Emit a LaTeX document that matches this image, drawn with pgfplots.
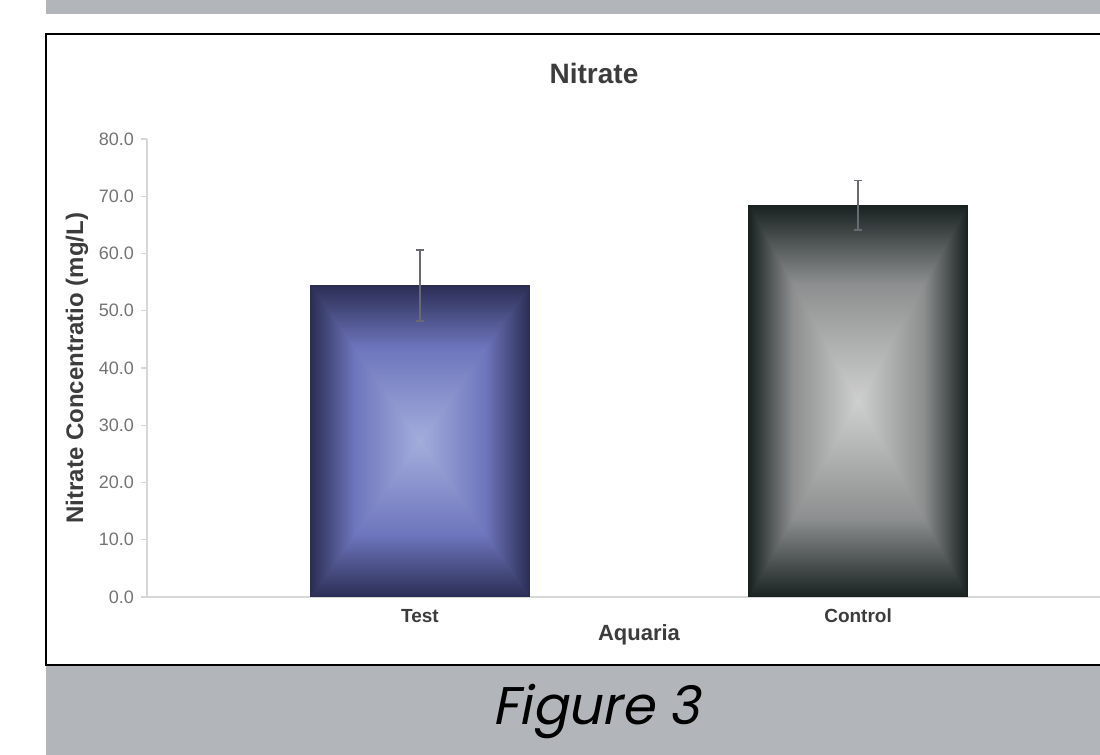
\documentclass[border=0pt]{standalone}
\usepackage{pgfplots}
\pgfplotsset{compat=1.18}
\usepackage{fontspec}
\setmainfont{Liberation Sans}
\newfontfamily\figfont{Poppins}[FakeSlant=0.2]

\definecolor{bandgray}{RGB}{178,182,186}
\definecolor{axisgray}{RGB}{215,215,215}
\definecolor{tickgray}{RGB}{115,115,115}
\definecolor{labelgray}{RGB}{60,60,60}
\definecolor{errgray}{RGB}{105,105,115}
\definecolor{testedge}{RGB}{42,45,80}
\definecolor{ctrledge}{RGB}{25,32,32}

% box gradients: light centre, dark edges (t = max(|x|,|y|))
\pgfdeclarefunctionalshading{testbox}{\pgfpoint{-50bp}{-50bp}}{\pgfpoint{50bp}{50bp}}{}{
  abs exch abs 2 copy lt {exch} if pop 25 div dup 1 gt {pop 1} if
  dup 0.6 lt
  {0.6 div dup -0.21 mul 0.64 add exch dup -0.22 mul 0.68 add exch -0.12 mul 0.86 add}
  {0.6 sub 0.4 div dup -0.26 mul 0.43 add exch dup -0.28 mul 0.46 add exch -0.41 mul 0.74 add}
  ifelse
}
\pgfdeclarefunctionalshading{ctrlbox}{\pgfpoint{-50bp}{-50bp}}{\pgfpoint{50bp}{50bp}}{}{
  abs exch abs 2 copy lt {exch} if pop 25 div dup 1 gt {pop 1} if
  dup 0.6 lt
  {0.6 div dup -0.26 mul 0.81 add exch dup -0.25 mul 0.81 add exch -0.25 mul 0.81 add}
  {0.6 sub 0.4 div dup -0.45 mul 0.55 add exch dup -0.43 mul 0.56 add exch -0.43 mul 0.56 add}
  ifelse
}

\begin{document}
\begin{tikzpicture}[x=0.5pt, y=0.5pt]
\useasboundingbox (0,0) rectangle (1100,755);
\clip (0,0) rectangle (1100,755);

% page furniture (y measured from the bottom, 1 unit = 1 px of the reference)
\fill[bandgray] (46,741) rectangle (1100,755);
\fill[bandgray] (46,0) rectangle (1100,89);
\draw[line width=1.4pt, black] (46,90) rectangle (1143,721);
\node[font=\figfont\fontsize{26.5}{30}\selectfont, anchor=base] at (596,30) {Figure 3};

\node[font=\bfseries\fontsize{14}{16}\selectfont, text=labelgray] at (594,681) {Nitrate};

\begin{axis}[
    at={(73.5pt,79pt)}, anchor=south west,
    scale only axis,
    width=492pt, height=229pt,
    xmin=-0.623, xmax=1.623,
    ymin=0, ymax=80,
    axis x line=bottom, axis y line=left,
    axis line style={-, draw=axisgray, line width=0.6pt},
    tick align=outside,
    major tick length=3pt,
    ytick={0,10,...,80},
    ytick style={draw=axisgray, line width=0.6pt},
    xtick={0,1},
    xticklabels={Test,Control},
    xtick style={draw=none},
    /pgf/number format/assume math mode=true,
    yticklabel style={/pgf/number format/.cd, fixed, fixed zerofill, precision=1, /tikz/.cd,
        font=\fontsize{9}{10}\selectfont, text=tickgray},
    xticklabel style={font=\bfseries\fontsize{9.5}{11}\selectfont, text=labelgray,
        anchor=base, yshift=-10pt},
    xlabel={Aquaria},
    xlabel style={at={(axis description cs:0.5,0)}, anchor=base, yshift=-22pt,
        font=\bfseries\fontsize{11}{13}\selectfont, text=labelgray},
    ylabel={Nitrate Concentratio (mg/L)},
    ylabel style={at={(axis description cs:-0.0711,0.5)}, anchor=center,
        font=\bfseries\fontsize{12}{14}\selectfont, text=labelgray},
    error bars/y dir=both,
    error bars/y explicit,
    error bars/error bar style={errgray, line width=0.7pt},
    error bars/error mark options={rotate=90, errgray, mark size=2pt, line width=0.7pt},
]
\addplot[ybar, bar width=0.498, bar shift=0pt, draw=testedge, line width=0.5pt,
    shade, shading=testbox]
    coordinates {(0,54.4) +- (0,6.2)};
\addplot[ybar, bar width=0.498, bar shift=0pt, draw=ctrledge, line width=0.5pt,
    shade, shading=ctrlbox]
    coordinates {(1,68.4) +- (0,4.3)};
\end{axis}
\end{tikzpicture}
\end{document}
